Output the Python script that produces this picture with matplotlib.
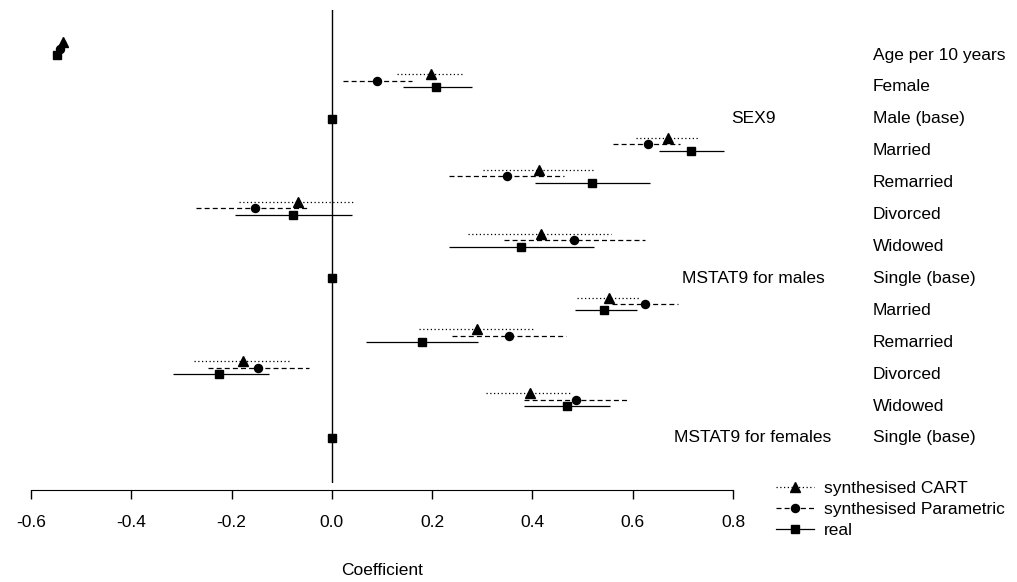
import numpy as np
import matplotlib
matplotlib.use("Agg")
import matplotlib.pyplot as plt
import matplotlib.transforms as mtransforms
from matplotlib.lines import Line2D

plt.rcParams["font.family"] = ["Liberation Sans", "DejaVu Sans"]
plt.rcParams["font.size"] = 12.5
plt.rcParams["axes.unicode_minus"] = False

# row labels (top to bottom)
row_labels = [
    "Age per 10 years", "Female", "Male (base)",
    "Married", "Remarried", "Divorced", "Widowed", "Single (base)",
    "Married", "Remarried", "Divorced", "Widowed", "Single (base)",
]
group_labels = {2: "SEX9", 7: "MSTAT9 for males", 12: "MSTAT9 for females"}

nan = np.nan
# synthesised CART: estimate, lower, upper
cart_est = [-0.536, 0.197, nan, 0.670, 0.413, -0.068, 0.417, nan, 0.553, 0.289, -0.177, 0.395, nan]
cart_lo = [-0.541, 0.130, nan, 0.606, 0.301, -0.186, 0.271, nan, 0.489, 0.173, -0.275, 0.307, nan]
cart_hi = [-0.531, 0.262, nan, 0.730, 0.522, 0.044, 0.556, nan, 0.612, 0.402, -0.081, 0.475, nan]

# synthesised Parametric
par_est = [-0.543, 0.090, nan, 0.630, 0.349, -0.154, 0.482, nan, 0.624, 0.353, -0.147, 0.487, nan]
par_lo = [-0.548, 0.022, nan, 0.560, 0.233, -0.271, 0.343, nan, 0.558, 0.239, -0.247, 0.383, nan]
par_hi = [-0.538, 0.159, nan, 0.694, 0.463, -0.046, 0.624, nan, 0.690, 0.467, -0.046, 0.590, nan]

# real
real_est = [-0.549, 0.207, 0.0, 0.716, 0.518, -0.078, 0.377, 0.0, 0.543, 0.179, -0.225, 0.469, 0.0]
real_lo = [-0.554, 0.142, nan, 0.652, 0.405, -0.193, 0.233, nan, 0.484, 0.068, -0.317, 0.383, nan]
real_hi = [-0.544, 0.279, nan, 0.782, 0.634, 0.040, 0.522, nan, 0.608, 0.291, -0.125, 0.555, nan]

xticks = [-0.6, -0.4, -0.2, 0.0, 0.2, 0.4, 0.6, 0.8]

W, H = 1017, 582
fig = plt.figure(figsize=(W / 100, H / 100), dpi=100)
ax = fig.add_axes([2.9 / W, 1 - 483 / H, (761.1 - 2.9) / W, (483 - 10) / H])

rows = np.arange(len(row_labels))
y_real = -rows
y_par = -rows + 0.2
y_cart = -rows + 0.4

lw = 0.9
dotted = (0, (1, 2))
dashed = (0, (4, 2.5))

series = [
    (cart_est, cart_lo, cart_hi, y_cart, dotted, "^", 6.5, "synthesised CART"),
    (par_est, par_lo, par_hi, y_par, dashed, "o", 5.8, "synthesised Parametric"),
    (real_est, real_lo, real_hi, y_real, "-", "s", 5.8, "real"),
]

handles = []
for est, lo, hi, y, ls, mk, ms, name in series:
    ax.hlines(y, lo, hi, colors="black", linestyles=[ls], linewidth=lw)
    ax.plot(est, y, ls="none", marker=mk, ms=ms, color="black")
    handles.append(Line2D([], [], color="black", ls=ls, lw=lw, marker=mk, ms=ms, label=name))

ax.axvline(0, color="black", lw=1)

ax.set_xlim(-0.656, 0.856)
ax.set_ylim(-13.41, 1.41)

for side in ["left", "right", "top"]:
    ax.spines[side].set_visible(False)
ax.spines["bottom"].set_position(("outward", 5))
ax.spines["bottom"].set_bounds(-0.6, 0.8)
ax.set_yticks([])
ax.set_xticks(xticks)
ax.set_xticklabels([f"{t:.1f}" for t in xticks])
ax.tick_params(axis="x", length=6.5, pad=11.5, width=1)
ax.set_xlabel("Coefficient", labelpad=24)

trans = mtransforms.blended_transform_factory(fig.transFigure, ax.transData)
for r, lab in enumerate(row_labels):
    ax.text(873 / W, -r, lab, transform=trans, ha="left", va="center", clip_on=False)
for r, lab in group_labels.items():
    ax.text(753 / W, -r, lab, transform=trans, ha="center", va="center", clip_on=False)

fig.legend(handles=handles, loc="upper left", bbox_to_anchor=(776 / W, 1 - 481 / H),
           frameon=False, borderpad=0, borderaxespad=0, labelspacing=0.33,
           handlelength=2.2, handletextpad=0.55)

fig.savefig("out.png", dpi=100)
